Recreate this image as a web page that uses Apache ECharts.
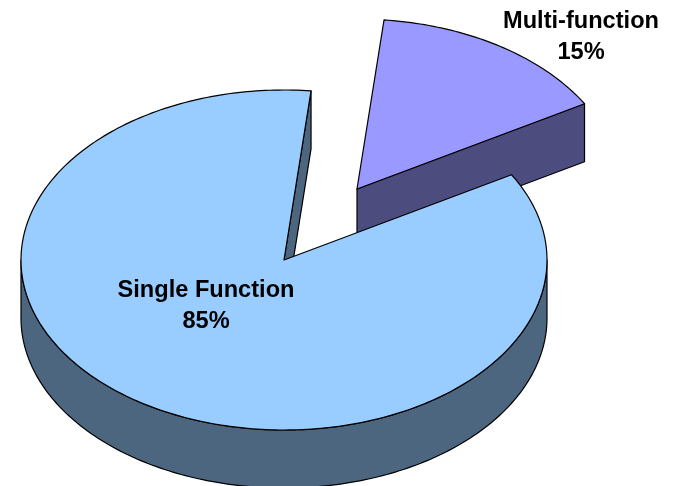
<!DOCTYPE html>
<html>
<head>
<meta charset="utf-8">
<style>
  html, body { margin: 0; padding: 0; background: #fff; }
  #chart { width: 674px; height: 486px; }
</style>
<script src="https://cdn.jsdelivr.net/npm/echarts@6/dist/echarts.min.js"></script>
</head>
<body>
<div id="chart"></div>
<script>
// slices go clockwise from startAngle, the exploded one first so the big one paints over it
var categories = ['Multi-function', 'Single Function']
var values = [15, 85]

var topColors = ['#9999FF', '#99CCFF']
var wallColors = ['#4C4C7F', '#4C667F']
var explodeOffsets = [[73, -71], [0, 0]]
var labelPositions = [[581, 37], [206, 306]]

var cx = 284
var cy = 260
var rx = 263
var ry = 170
var depth = 58
var startAngle = 5.9 // degrees clockwise from 12 o'clock
var total = values.reduce(function (a, b) { return a + b }, 0)

// point on the ellipse, angle in degrees clockwise from the top
function rim(angle, ox, oy, dy) {
  var r = angle * Math.PI / 180
  return [cx + ox + rx * Math.sin(r), cy + oy + dy - ry * Math.cos(r)]
}

function arcPoints(from, to, ox, oy, dy) {
  var pts = []
  var steps = Math.max(2, Math.ceil(Math.abs(to - from)))
  for (var i = 0; i <= steps; i++) {
    pts.push(rim(from + (to - from) * i / steps, ox, oy, dy))
  }
  return pts
}

function poly(points, fill) {
  return {
    type: 'polygon',
    shape: { points: points },
    style: { fill: fill, stroke: '#000', lineWidth: 1.2, lineJoin: 'round' }
  }
}

function renderSlice(params, api) {
  var i = params.dataIndex
  var before = 0
  for (var k = 0; k < i; k++) before += values[k]
  var a0 = startAngle + before / total * 360
  var a1 = a0 + api.value(0) / total * 360
  var ox = explodeOffsets[i][0]
  var oy = explodeOffsets[i][1]
  var apex = [cx + ox, cy + oy]
  var apexLow = [cx + ox, cy + oy + depth]
  var children = []

  // inner cut face, only the one turned towards the viewer
  var endNorm = a1 % 360
  if (endNorm > 0 && endNorm < 180) {
    children.push(poly([apex, rim(a1, ox, oy, 0), rim(a1, ox, oy, depth), apexLow], wallColors[i]))
  }

  // outer wall, front half of the rim only
  var from = Math.max(a0, 90)
  var to = Math.min(a1, 270)
  if (to > from) {
    children.push(poly(
      arcPoints(from, to, ox, oy, 0).concat(arcPoints(to, from, ox, oy, depth)),
      wallColors[i]
    ))
  }

  // top face
  children.push(poly([apex].concat(arcPoints(a0, a1, ox, oy, 0)), topColors[i]))

  children.push({
    type: 'text',
    z2: 10,
    style: {
      text: categories[i] + '\n' + api.value(0) + '%',
      x: labelPositions[i][0],
      y: labelPositions[i][1],
      align: 'center',
      verticalAlign: 'middle',
      font: 'bold 23.6px "Liberation Sans", Arial, sans-serif',
      lineHeight: 31,
      fill: '#000'
    }
  })

  return { type: 'group', children: children }
}

var chart = echarts.init(document.getElementById('chart'))
chart.setOption({
  backgroundColor: '#fff',
  animation: false,
  series: [
    {
      type: 'custom',
      coordinateSystem: 'none',
      silent: true,
      data: values.map(function (v) { return [v] }),
      renderItem: renderSlice
    }
  ]
})
</script>
</body>
</html>
